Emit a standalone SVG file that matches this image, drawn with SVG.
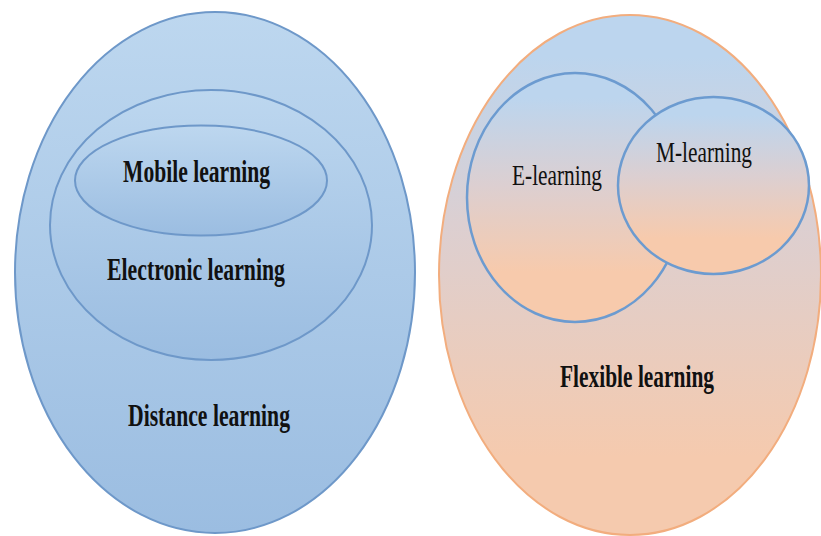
<svg xmlns="http://www.w3.org/2000/svg" width="821" height="536" viewBox="0 0 821 536">
<style>
.lbl{font-family:"Liberation Serif","Times New Roman",serif;font-size:31px;fill:#111;}
.b{font-weight:bold;}
.r{font-size:30px;}
.blue{stroke:#6E98C9;stroke-width:2;}
.inner{stroke:#6C9BD0;stroke-width:2.5;}
</style>
<defs>
<linearGradient id="gL" x1="0" y1="0" x2="0" y2="1">
<stop offset="0" stop-color="#BDD7EF"/>
<stop offset="1" stop-color="#9BBDE1"/>
</linearGradient>
<linearGradient id="gR" x1="0" y1="0" x2="0" y2="1">
<stop offset="0.08" stop-color="#BCD5EE"/>
<stop offset="0.4" stop-color="#DCCFD1"/>
<stop offset="0.85" stop-color="#F5CAAE"/>
</linearGradient>
<linearGradient id="gC" x1="0" y1="0" x2="0" y2="1">
<stop offset="0.1" stop-color="#BCD5EE"/>
<stop offset="0.45" stop-color="#DCCFD1"/>
<stop offset="0.8" stop-color="#F7CAAC"/>
</linearGradient>
</defs>
<g id="distance">
<ellipse cx="215" cy="272.5" rx="200" ry="260.5" fill="url(#gL)" class="blue"/>
<text class="lbl b" x="128" y="426" textLength="162" lengthAdjust="spacingAndGlyphs">Distance learning</text>
</g>
<g id="electronic">
<ellipse cx="211" cy="225" rx="161" ry="135" fill="url(#gL)" class="blue"/>
<text class="lbl b" x="107" y="280" textLength="178" lengthAdjust="spacingAndGlyphs">Electronic learning</text>
</g>
<g id="mobile">
<ellipse cx="201" cy="180.5" rx="126" ry="55" fill="url(#gL)" class="blue"/>
<text class="lbl b" x="123" y="182" textLength="147" lengthAdjust="spacingAndGlyphs">Mobile learning</text>
</g>
<g id="flexible">
<ellipse cx="630" cy="275" rx="191" ry="260" fill="url(#gR)" stroke="#F2AD7E" stroke-width="2"/>
<text class="lbl b" x="560" y="387" textLength="154" lengthAdjust="spacingAndGlyphs">Flexible learning</text>
</g>
<g id="e-learning">
<ellipse cx="575" cy="197.5" rx="108" ry="124.5" fill="url(#gC)" class="inner"/>
<text class="lbl r" x="512" y="185" textLength="90" lengthAdjust="spacingAndGlyphs">E-learning</text>
</g>
<g id="m-learning">
<ellipse cx="713.5" cy="185.5" rx="95.5" ry="88.5" fill="url(#gC)" class="inner"/>
<text class="lbl r" x="656" y="162" textLength="96" lengthAdjust="spacingAndGlyphs">M-learning</text>
</g>
<g id="connectors"/>
</svg>
